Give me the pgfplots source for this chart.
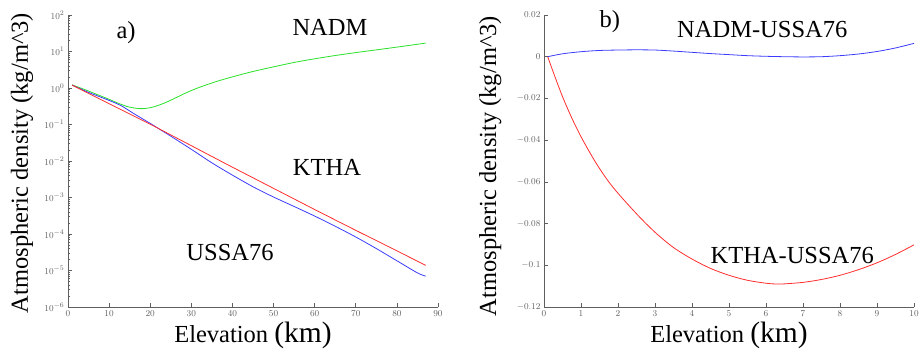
\documentclass[border=0pt]{standalone}
\usepackage{pgfplots}
\pgfplotsset{compat=1.18}
\usepackage{fontspec}
\setmainfont{Liberation Serif}
\definecolor{cgreen}{RGB}{40,225,40}
\definecolor{cblue}{RGB}{60,60,255}
\definecolor{cred}{RGB}{255,45,45}
\definecolor{tickgray}{RGB}{95,95,95}
\tikzset{lbl/.style={font=\fontsize{24.5}{25}\selectfont}}
\newcommand{\xlab}{\fontsize{24.5}{25}\selectfont Elevation \fontsize{29.5}{30}\selectfont(km)}
\newcommand{\ylab}{\fontsize{24.5}{25}\selectfont Atmospheric density (kg/m\textasciicircum 3)}
\pgfplotsset{
  panel/.style={
    scale only axis, width=370pt, height=292pt, anchor=south west,
    axis lines=left, axis line style={-, tickgray, line width=0.8pt},
    tick align=inside, major tick length=4pt, minor tick length=2pt,
    tick style={tickgray, line width=0.6pt},
    tick label style={font=\fontsize{9.5}{10}\selectfont, text=tickgray},
    clip=false,
    xlabel style={anchor=base},
    ylabel style={anchor=base},
    every axis plot/.append style={line width=0.8pt},
  },
}
\begin{document}
\begin{tikzpicture}[x=1pt,y=1pt]
\useasboundingbox (0,0) rectangle (920,356);
% ---------------- panel a ----------------
\begin{axis}[panel, at={(68pt,49pt)},
  ymode=log, xmin=0, xmax=90, ymin=1e-6, ymax=1e2,
  xtick={0,10,...,90},
  ytick={1e-6,1e-5,1e-4,1e-3,1e-2,1e-1,1e0,1e1,1e2},
  xlabel={\xlab},
  ylabel={\ylab},
  xlabel style={at={([yshift=-35pt]axis description cs:0.5,0)}},
  ylabel style={at={([xshift=-40pt,yshift=-2pt]axis description cs:0,0.5)}},
]
\addplot[cgreen, smooth] coordinates {
(1,1.22) (4,0.912) (7.8,0.617) (10,0.490) (12.5,0.372) (14.5,0.309) (16.5,0.279)
(18,0.272) (20,0.288) (22,0.335) (24,0.412) (26,0.525) (28,0.676) (30,0.851)
(32,1.047) (36,1.496) (40,2.018) (44,2.661) (48,3.388) (55,5.012)
(60,6.31) (65,7.762) (70,9.333) (75,11.09) (80,13.18) (87,16.98)};
\addplot[cblue, smooth] coordinates {
(1,1.2) (5,0.759) (10,0.457) (13,0.324) (16,0.1995) (20,0.107) (25,0.0479)
(30,0.0209) (35,0.0089) (40,0.0041) (45,0.00197) (50,0.00103) (55,0.000568)
(60,0.000310) (65,0.000163) (70,8.28e-5) (75,3.99e-5) (80,1.85e-5) (85,8.6e-6)
(87,7.0e-6)};
\addplot[cred] coordinates {
(1,1.20) (10,0.372) (20,0.102) (30,0.0263) (40,0.00676) (50,0.00178)
(60,0.000468) (70,0.000126) (80,3.47e-5) (87,1.38e-5)};
\node[lbl] at (rel axis cs:0.157,0.938) {a)};
\node[lbl] at (rel axis cs:0.708,0.957) {NADM};
\node[lbl] at (rel axis cs:0.700,0.478) {KTHA};
\node[lbl] at (rel axis cs:0.438,0.188) {USSA76};
\end{axis}
% ---------------- panel b ----------------
\begin{axis}[panel, at={(544pt,49pt)},
  xmin=0, xmax=10, ymin=-0.12, ymax=0.02,
  xtick={0,1,...,10},
  ytick={-0.12,-0.1,-0.08,-0.06,-0.04,-0.02,0,0.02},
  yticklabel style={/pgf/number format/fixed, /pgf/number format/precision=2},
  xlabel={\xlab},
  ylabel={\ylab},
  xlabel style={at={([yshift=-35pt]axis description cs:0.5,0)}},
  ylabel style={at={([xshift=-48pt,yshift=-5pt]axis description cs:0,0.5)}},
]
\addplot[cblue, smooth] coordinates {
(0.1,0) (0.5,0.0014) (1,0.0024) (1.5,0.003) (2,0.0032) (2.5,0.0033) (3,0.0032)
(3.5,0.0027) (4,0.0021) (4.5,0.0015) (5,0.001) (5.5,0.0005) (6,0.0002) (6.5,0.0)
(7,-0.0001) (7.5,0.0) (8,0.0005) (8.5,0.0013) (9,0.0025) (9.5,0.0042) (10,0.0064)};
\addplot[cred, smooth] coordinates {
(0.1,0) (0.3,-0.0098) (0.52,-0.0200) (0.78,-0.0305) (1.05,-0.040) (1.4,-0.0508)
(1.73,-0.0595) (2.05,-0.0665) (2.59,-0.0770) (3.04,-0.0848) (3.5,-0.0915)
(4,-0.0970) (4.5,-0.1015) (5,-0.1048) (5.5,-0.1072) (6,-0.1086) (6.3,-0.109)
(6.5,-0.1089) (7,-0.1082) (7.5,-0.1068) (8,-0.1048) (8.5,-0.1021) (9,-0.0988)
(9.5,-0.0948) (10,-0.0902)};
\node[lbl] at (rel axis cs:0.178,0.979) {b)};
\node[lbl] at (rel axis cs:0.590,0.952) {NADM-USSA76};
\node[lbl] at (rel axis cs:0.671,0.178) {KTHA-USSA76};
\end{axis}
\end{tikzpicture}
\end{document}
